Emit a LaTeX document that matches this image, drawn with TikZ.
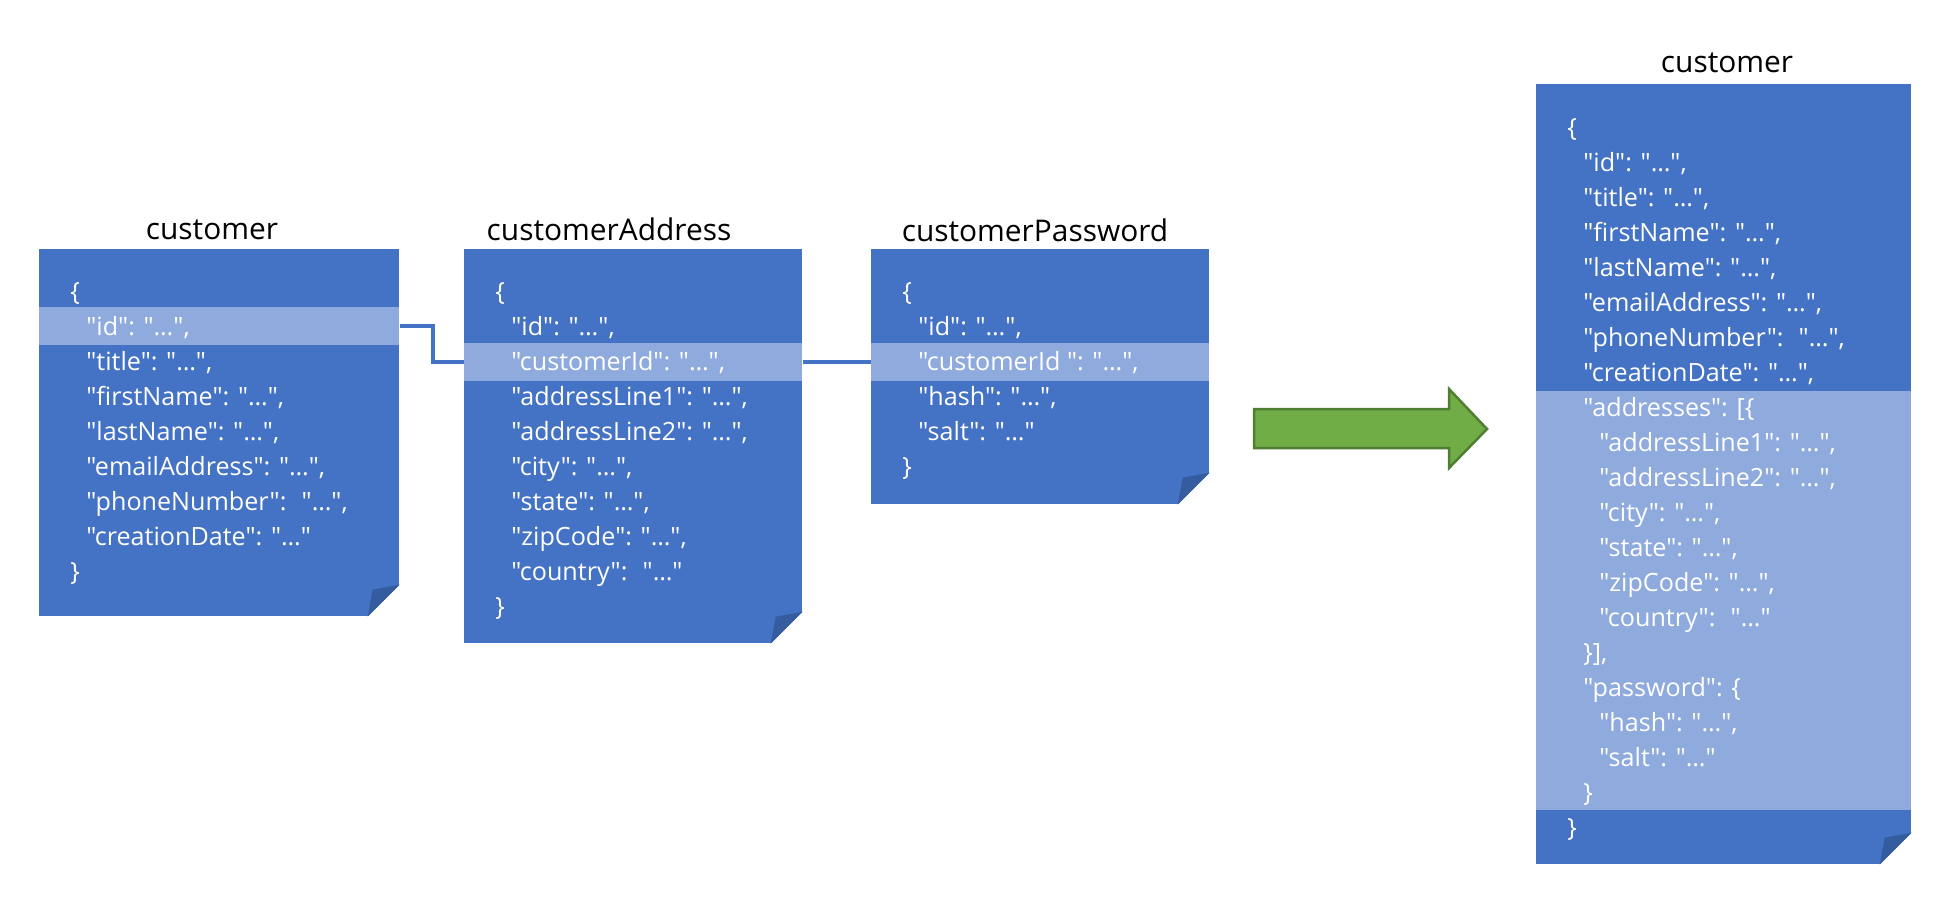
\documentclass[tikz,border=0pt]{standalone}
\usepackage{fontspec}
\setmainfont{Open Sans}
\newfontfamily\jsonfont{Open Sans}
\definecolor{docblue}{HTML}{4472C4}
\definecolor{rowblue}{HTML}{8FAADC}
\definecolor{earblue}{HTML}{345C9E}
\definecolor{arrowgreen}{HTML}{70AD47}
\definecolor{arrowedge}{HTML}{507E32}
\newcommand{\jsind}{\hspace*{3.2mm}}
% folded bottom-right corner of a document node
\newcommand{\dogear}[1]{%
  \fill[white] (#1.south east) -- ++(1,0) -- ++(0,-33) -- ++(-33,33) -- cycle;
  \fill[earblue] ([xshift=-6.4mm]#1.south east) -- ++(32,-32) -- ++(-27,5) -- cycle;
}
\begin{document}
\begin{tikzpicture}
    [
    x=0.2mm,y=-0.2mm,
    doc/.style={fill=docblue,inner sep=0pt,anchor=north west},
    row/.style={fill=rowblue,inner sep=0pt,anchor=north west},
    json/.style={text=white,align=left,anchor=base west,inner sep=0pt,font=\jsonfont\fontsize{14.3}{19.9}\selectfont},
    title/.style={anchor=base,inner sep=0pt,font=\fontsize{17}{20}\selectfont},
    link/.style={draw=docblue,line width=0.8mm}
    ]
    \useasboundingbox (0,0) rectangle (1950,900);
    % documents
    \node (cust) at (39,249) [doc,minimum width=72mm,minimum height=73.4mm] {};
    \node (addr) at (464,249) [doc,minimum width=67.6mm,minimum height=78.8mm] {};
    \node (pass) at (871,249) [doc,minimum width=67.6mm,minimum height=51mm] {};
    \node (merged) at (1536,84) [doc,minimum width=75mm,minimum height=156mm] {};
    \node (custid) at (39,307) [row,minimum width=72mm,minimum height=7.6mm] {};
    \node (addrcid) at (464,343) [row,minimum width=67.6mm,minimum height=7.6mm] {};
    \node (passcid) at (871,343) [row,minimum width=67.6mm,minimum height=7.6mm] {};
    \node (nested) at (1536,391) [row,minimum width=75mm,minimum height=83.8mm] {};
    \dogear{cust}
    \dogear{addr}
    \dogear{pass}
    \dogear{merged}
    % titles
    \node (custtitle) at (212,239) [title] {customer};
    \node (addrtitle) at (609,240) [title] {customerAddress};
    \node (passtitle) at (1035,241) [title] {customerPassword};
    \node (mergedtitle) at (1727,72) [title] {customer};
    % contents (placed by the baseline of their last line)
    \node (custtext) at (70,580) [json] {\{\\
      \jsind"id": "…",\\
      \jsind"title": "…",\\
      \jsind"firstName": "…",\\
      \jsind"lastName": "…",\\
      \jsind"emailAddress": "…",\\
      \jsind"phoneNumber":~ "…",\\
      \jsind"creationDate": "…"\\
      \}};
    \node (addrtext) at (495,615) [json] {\{\\
      \jsind"id": "…",\\
      \jsind"customerId": "…",\\
      \jsind"addressLine1": "…",\\
      \jsind"addressLine2": "…",\\
      \jsind"city": "…",\\
      \jsind"state": "…",\\
      \jsind"zipCode": "…",\\
      \jsind"country":~ "…"\\
      \}};
    \node (passtext) at (902,475) [json] {\{\\
      \jsind"id": "…",\\
      \jsind"customerId ": "…",\\
      \jsind"hash": "…",\\
      \jsind"salt": "…"\\
      \}};
    \node (mergedtext) at (1567,836) [json] {\{\\
      \jsind"id": "…",\\
      \jsind"title": "…",\\
      \jsind"firstName": "…",\\
      \jsind"lastName": "…",\\
      \jsind"emailAddress": "…",\\
      \jsind"phoneNumber":~ "…",\\
      \jsind"creationDate": "…",\\
      \jsind"addresses": [\{\\
      \jsind\jsind"addressLine1": "…",\\
      \jsind\jsind"addressLine2": "…",\\
      \jsind\jsind"city": "…",\\
      \jsind\jsind"state": "…",\\
      \jsind\jsind"zipCode": "…",\\
      \jsind\jsind"country":~ "…"\\
      \jsind\}],\\
      \jsind"password": \{\\
      \jsind\jsind"hash": "…",\\
      \jsind\jsind"salt": "…"\\
      \jsind\}\\
      \}};
    % keys
    \draw [link] (custid.east) -- ++(33,0) |- (addrcid.west);
    \draw [link] (addrcid.east) -- (passcid.west);
    % merge arrow
    \draw [fill=arrowgreen,draw=arrowedge,line width=0.5mm]
      (1254,409) -- (1449,409) -- (1449,389) -- (1487,429) -- (1449,468) -- (1449,448) -- (1254,448) -- cycle;
  \end{tikzpicture}
\end{document}
